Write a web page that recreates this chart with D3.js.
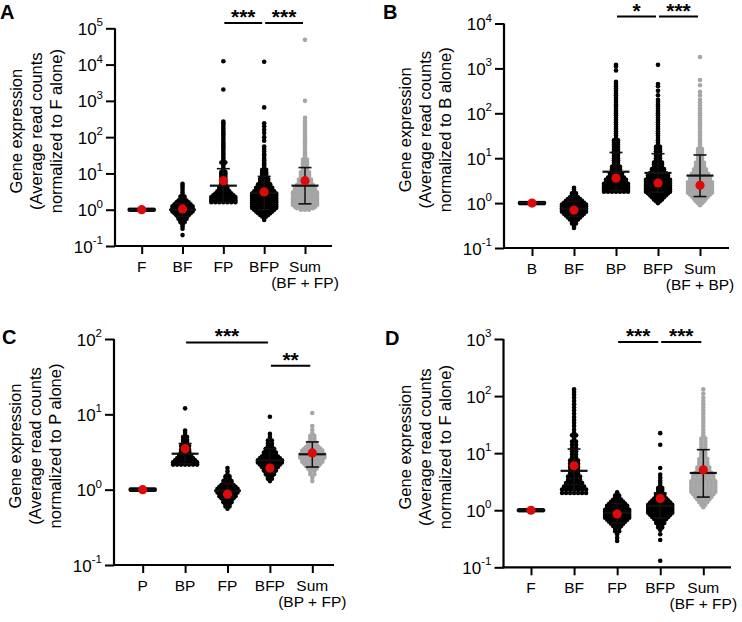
<!DOCTYPE html>
<html><head><meta charset="utf-8">
<script src="https://cdn.jsdelivr.net/npm/d3@7"></script>
<style>
body{margin:0;background:#fff}
svg{display:block}
text{font-family:"Liberation Sans",Arial,sans-serif;fill:#000}
</style>
</head><body>
<svg id="c" width="742" height="622"></svg>
<script>
// ---------- DATA ----------
// Rows of genes: [expression value, number of genes drawn side by side at that level]
const A_cats = ["F","BF","FP","BFP","Sum"];
const A_F   = [[1,7],[1,6]];
const A_BF  = [[0.2,1],[0.3,1],[0.35,1],[0.4,1],[0.45,2],[0.5,2],[0.56,3],[0.63,3],[0.7,4],[0.8,5],[0.9,6],[1.0,6],[1.1,6],[1.25,6],[1.4,5],[1.6,4],[1.8,3],[2.0,2],[2.3,2],[2.6,1],[3,1],[3.5,1],[4,1],[4.6,1],[5.2,1]];
const A_FP  = [[1.6,7],[1.8,7],[2.0,7],[2.25,7],[2.5,6],[2.8,5],[3.2,4],[3.6,3],[4,3],[4.5,2],[5,2],[5.6,2],[6.3,2],[7,2],[8,2],[9,2],[10,2],[11,2],[12.5,1],[14,1],[16,1],[18,1],[20,2],[23,1],[26,1],[29,1],[33,1],[37,1],[42,1],[47,1],[53,1],[60,1],[67,1],[75,1],[85,1],[95,1],[107,1],[120,1],[135,1],[150,1],[170,1],[190,1],[215,1],[240,1],[270,1],[2050,1],[12300,1]];
const A_BFP = [[0.52,1],[0.58,1],[0.65,2],[0.72,3],[0.8,4],[0.9,5],[1.0,6],[1.12,7],[1.25,7],[1.4,7],[1.6,7],[1.8,7],[2.0,7],[2.25,7],[2.5,7],[2.8,7],[3.2,6],[3.6,5],[4,5],[4.5,4],[5,4],[5.6,3],[6.3,3],[7,3],[8,2],[9,2],[10,2],[11,2],[12.5,2],[14,1],[16,1],[18,1],[20,1],[23,1],[26,1],[30,1],[34,1],[40,1],[47,1],[55,1],[80,1],[100,1],[130,1],[160,1],[200,1],[240,1],[660,1],[12000,1]];
const A_Sum = [[1.0,3],[1.1,5],[1.2,6],[1.35,7],[1.5,7],[1.7,7],[1.9,7],[2.1,7],[2.4,7],[2.7,7],[3,7],[3.4,6],[3.8,6],[4.3,5],[4.8,5],[5.4,4],[6,4],[6.8,4],[7.6,3],[8.5,3],[9.5,3],[10.7,3],[12,2],[13.5,2],[15,2],[17,2],[19,2],[21,2],[24,2],[27,1],[30,1],[34,1],[38,1],[43,1],[48,1],[54,1],[61,1],[68,1],[77,1],[87,1],[98,1],[110,1],[125,1],[140,1],[160,1],[180,1],[210,1],[240,1],[280,1],[340,1],[1000,1],[48000,1]];
const A_mean = [1, 1.0, 4.6, 2.9, 4.6];
const A_hi   = [1, 1.5, 13.5, 8.3, 14.5];
const A_lo   = [1, 0.65, 1.6, 1.0, 1.45];
const A_red  = [1, 1.05, 6.3, 3.1, 6.3];
const A_sig  = [["FP","BFP","***",1.4e5],["BFP","Sum","***",1.4e5]];

const B_cats = ["B","BF","BP","BFP","Sum"];
const B_B   = [[1,7],[1,6]];
const B_BF  = [[0.28,1],[0.31,1],[0.35,2],[0.39,2],[0.43,3],[0.48,4],[0.53,5],[0.58,6],[0.64,7],[0.7,7],[0.77,7],[0.85,7],[0.93,7],[1.02,6],[1.12,5],[1.23,4],[1.35,3],[1.5,2],[1.65,2],[1.8,1],[2.0,1],[2.2,1]];
const B_BP  = [[1.8,7],[2.0,7],[2.2,7],[2.4,7],[2.7,7],[3.0,6],[3.3,6],[3.7,5],[4.1,4],[4.6,4],[5.1,3],[5.7,3],[6.4,3],[7.2,2],[8,2],[9,2],[10,2],[11.3,2],[12.7,2],[14.2,2],[16,2],[18,2],[20,2],[22.5,2],[25,2],[28,1],[32,1],[36,1],[40,1],[45,1],[50,1],[56,1],[63,1],[71,1],[80,1],[90,1],[100,1],[112,1],[126,1],[141,1],[158,1],[178,1],[200,1],[224,1],[251,1],[282,1],[316,1],[355,1],[400,1],[450,1],[500,1],[900,1],[1100,1],[1200,1]];
const B_BFP = [[1.0,1],[1.1,2],[1.2,3],[1.35,4],[1.5,5],[1.65,6],[1.8,7],[2.0,7],[2.2,7],[2.45,7],[2.7,7],[3.0,7],[3.3,7],[3.7,6],[4.1,6],[4.6,5],[5.1,4],[5.7,4],[6.4,3],[7.2,3],[8,3],[9,2],[10,2],[11.3,2],[12.7,2],[14.2,2],[16,2],[18,2],[20,1],[22.5,1],[25,1],[28,1],[32,1],[36,1],[40,1],[45,1],[50,1],[56,1],[63,1],[71,1],[80,1],[90,1],[100,1],[112,1],[126,1],[141,1],[158,1],[178,1],[200,1],[251,1],[316,1],[400,1],[450,1],[1200,1]];
const B_Sum = [[0.9,1],[1.0,2],[1.1,3],[1.25,4],[1.4,5],[1.55,6],[1.7,7],[1.9,7],[2.1,7],[2.35,7],[2.6,7],[2.9,7],[3.2,6],[3.6,6],[4,5],[4.5,5],[5,4],[5.6,4],[6.3,3],[7,3],[7.9,3],[8.9,2],[10,2],[11.2,2],[12.6,2],[14,2],[16,2],[18,1],[20,1],[22.5,1],[25,1],[28,1],[32,1],[36,1],[40,1],[45,1],[50,1],[56,1],[63,1],[71,1],[80,1],[90,1],[100,1],[115,1],[130,1],[150,1],[175,1],[200,1],[250,1],[300,1],[420,1],[550,1],[1800,1]];
const B_mean = [1, 0.75, 5.0, 4.7, 4.1];
const B_hi   = [1, 1.1, 13.4, 12.6, 11.8];
const B_lo   = [1, 0.5, 1.9, 1.75, 1.4];
const B_red  = [1, 0.7, 3.6, 2.8, 2.5];
const B_sig  = [["BP","BFP","*",14300],["BFP","Sum","***",14300]];

const C_cats = ["P","BP","FP","BFP","Sum"];
const C_P   = [[1,7],[1,6]];
const C_BP  = [[2.15,7],[2.3,7],[2.45,6],[2.6,5],[2.75,4],[2.9,4],[3.05,3],[3.2,3],[3.4,3],[3.6,2],[3.8,3],[4.0,2],[4.3,2],[4.6,2],[5.0,2],[5.3,1],[5.7,1],[6.1,1],[12,1]];
const C_FP  = [[0.56,1],[0.6,2],[0.64,2],[0.68,3],[0.72,3],[0.77,4],[0.82,5],[0.87,5],[0.92,6],[0.97,6],[1.03,6],[1.09,5],[1.15,4],[1.22,3],[1.3,3],[1.4,2],[1.5,2],[1.6,1],[1.75,1],[1.94,1]];
const C_BFP = [[1.3,1],[1.4,2],[1.5,2],[1.6,3],[1.7,3],[1.8,4],[1.9,4],[2.0,5],[2.15,6],[2.3,7],[2.45,7],[2.6,6],[2.75,5],[2.9,4],[3.1,4],[3.3,3],[3.5,3],[3.8,2],[4.1,2],[4.5,2],[5.0,1],[5.5,1],[9.3,1]];
const C_Sum = [[1.3,1],[1.45,1],[1.6,2],[1.75,2],[1.9,3],[2.05,4],[2.2,5],[2.35,6],[2.5,6],[2.65,7],[2.8,7],[2.95,7],[3.1,6],[3.3,6],[3.5,5],[3.7,4],[3.95,3],[4.2,3],[4.5,2],[4.8,2],[5.2,2],[5.6,1],[6.2,1],[7,1],[10.4,1]];
const C_mean = [1, 3.0, 0.97, 2.45, 2.95];
const C_hi   = [1, 4.1, 1.2, 3.5, 4.3];
const C_lo   = [1, 2.2, 0.77, 1.7, 2.0];
const C_red  = [1, 3.5, 0.87, 1.94, 3.07];
const C_sig  = [["BP","BFP","***",90],["BFP","Sum","**",44]];

const D_cats = ["F","BF","FP","BFP","Sum"];
const D_F   = [[1,7],[1,6]];
const D_BF  = [[2.0,7],[2.3,7],[2.6,6],[3.0,5],[3.4,4],[3.9,4],[4.4,3],[5,3],[5.7,3],[6.5,3],[7.4,3],[8.4,2],[9.5,2],[10.8,2],[12.3,2],[14,2],[16,2],[18,1],[20.5,2],[23,1],[26,1],[30,1],[34,1],[38,1],[43,1],[49,1],[56,1],[63,1],[72,1],[82,1],[93,1],[105,1],[118,1],[131,1]];
const D_FP  = [[0.29,1],[0.33,1],[0.38,1],[0.43,2],[0.48,2],[0.53,3],[0.58,4],[0.63,5],[0.68,6],[0.74,7],[0.8,7],[0.87,7],[0.94,7],[1.02,7],[1.1,6],[1.2,6],[1.3,5],[1.41,4],[1.53,3],[1.66,2],[1.8,2],[1.95,1],[2.06,1]];
const D_BFP = [[0.13,1],[0.3,1],[0.38,1],[0.45,1],[0.5,2],[0.55,2],[0.6,3],[0.65,3],[0.7,4],[0.76,5],[0.83,6],[0.9,7],[0.98,7],[1.06,7],[1.15,7],[1.25,7],[1.36,6],[1.48,5],[1.6,4],[1.75,3],[1.9,3],[2.07,2],[2.25,2],[2.45,2],[2.7,1],[3.0,1],[3.3,1],[3.7,1],[4.2,1],[5.5,1],[14,1],[22.4,1]];
const D_Sum = [[1.13,1],[1.25,2],[1.4,3],[1.55,4],[1.7,5],[1.9,6],[2.1,7],[2.35,7],[2.6,7],[2.9,7],[3.2,7],[3.6,6],[4,6],[4.5,5],[5,4],[5.6,4],[6.3,3],[7,3],[7.9,3],[8.9,2],[10,2],[11.3,2],[12.7,2],[14.3,2],[16,2],[18,2],[20.5,1],[23,1],[26,1],[30,1],[34,1],[38,1],[43,1],[49,1],[56,1],[63,1],[72,1],[82,1],[93,1],[110,1],[131,1]];
const D_mean = [1, 4.9, 0.9, 1.2, 4.5];
const D_hi   = [1, 11.8, 1.3, 2.0, 11.5];
const D_lo   = [1, 2.0, 0.6, 0.72, 1.7];
const D_red  = [1, 6.0, 0.86, 1.6, 5.1];
const D_sig  = [["FP","BFP","***",890],["BFP","Sum","***",890]];

const titleLines = ["Gene expression","(Average read counts"];

// ---------- LAYOUT ----------
const panels = [
 {letter:"A", lx:0, ly:19, ax:115, top:28.3, bot:246, dmax:1e5, c0:141.7, c1:305, xend:332,
  cats:A_cats, sub:"(BF + FP)", norm:"normalized to F alone)", groups:[A_F,A_BF,A_FP,A_BFP,A_Sum],
  mean:A_mean, hi:A_hi, lo:A_lo, red:A_red, sig:A_sig},
 {letter:"B", lx:383, ly:19, ax:504, top:23.5, bot:248, dmax:1e4, c0:532, c1:700, xend:729,
  cats:B_cats, sub:"(BF + BP)", norm:"normalized to B alone)", groups:[B_B,B_BF,B_BP,B_BFP,B_Sum],
  mean:B_mean, hi:B_hi, lo:B_lo, red:B_red, sig:B_sig},
 {letter:"C", lx:2, ly:344, ax:114, top:339, bot:565, dmax:1e2, c0:142.7, c1:312.3, xend:334,
  cats:C_cats, sub:"(BP + FP)", norm:"normalized to P alone)", groups:[C_P,C_BP,C_FP,C_BFP,C_Sum],
  mean:C_mean, hi:C_hi, lo:C_lo, red:C_red, sig:C_sig},
 {letter:"D", lx:385, ly:345, ax:503.5, top:339, bot:567.3, dmax:1e3, c0:531, c1:703.3, xend:731,
  cats:D_cats, sub:"(BF + FP)", norm:"normalized to F alone)", groups:[D_F,D_BF,D_FP,D_BFP,D_Sum],
  mean:D_mean, hi:D_hi, lo:D_lo, red:D_red, sig:D_sig}
];

const R = 2.3, SP = 4, GRAY = "#a6a6a6", RED = "#dd0a0a";
const svg = d3.select("#c");

panels.forEach(p => {
  const g = svg.append("g");
  const y = d3.scaleLog().domain([0.1, p.dmax]).range([p.bot, p.top]);
  const x = d3.scalePoint().domain(p.cats).range([p.c0, p.c1]);

  // dots
  p.groups.forEach((rows, i) => {
    const cx = x(p.cats[i]);
    const col = p.cats[i] === "Sum" ? GRAY : "#000";
    const pts = [];
    rows.forEach(([v, n]) => { for (let k = 0; k < n; k++) pts.push({v, dx: (k - (n - 1) / 2) * SP}); });
    g.append("g").selectAll("circle").data(pts).join("circle")
      .attr("cx", d => cx + d.dx).attr("cy", d => y(d.v)).attr("r", R).attr("fill", col);
  });

  // mean / SD bars and red dots
  p.cats.forEach((c, i) => {
    const cx = x(c);
    const lc = "#111";
    g.append("line").attr("x1", cx).attr("x2", cx).attr("y1", y(p.lo[i])).attr("y2", y(p.hi[i]))
      .attr("stroke", lc).attr("stroke-width", 1.5);
    [p.lo[i], p.hi[i]].forEach(v => g.append("line").attr("x1", cx - 6.5).attr("x2", cx + 6.5)
      .attr("y1", y(v)).attr("y2", y(v)).attr("stroke", lc).attr("stroke-width", 1.6));
    g.append("line").attr("x1", cx - 13.5).attr("x2", cx + 13.5).attr("y1", y(p.mean[i])).attr("y2", y(p.mean[i]))
      .attr("stroke", lc).attr("stroke-width", 2.2);
  });
  g.append("g").selectAll("circle").data(p.red).join("circle")
    .attr("cx", (d, i) => x(p.cats[i])).attr("cy", d => y(d)).attr("r", 4.6).attr("fill", RED);

  // y axis
  const decades = d3.range(-1, Math.round(Math.log10(p.dmax)) + 1).map(k => Math.pow(10, k));
  const ya = g.append("g").attr("transform", `translate(${p.ax},0)`)
    .call(d3.axisLeft(y).tickValues(decades).tickSize(9).tickSizeOuter(0).tickPadding(4).tickFormat(() => ""));
  ya.select(".domain").attr("stroke-width", 2.2).attr("d", `M0,${p.bot + 1}V${p.top}`);
  ya.selectAll(".tick line").attr("stroke-width", 2);
  ya.selectAll(".tick text").each(function(d) {
    const t = d3.select(this).attr("font-size", 17).attr("dy", "0.36em").attr("x", -12);
    t.append("tspan").text("10");
    t.append("tspan").attr("font-size", 11.5).attr("dy", "-0.75em").text(Math.round(Math.log10(d)));
  });

  // x axis
  g.append("line").attr("x1", p.ax - 1).attr("x2", p.xend).attr("y1", p.bot).attr("y2", p.bot)
    .attr("stroke", "#000").attr("stroke-width", 2.2);
  const xa = g.append("g").attr("transform", `translate(0,${p.bot})`)
    .call(d3.axisBottom(x).tickSize(8).tickSizeOuter(0).tickFormat(() => ""));
  xa.select(".domain").remove();
  xa.selectAll(".tick line").attr("stroke-width", 2);
  p.cats.forEach(c => {
    g.append("text").attr("x", x(c)).attr("y", p.bot + 26).attr("text-anchor", "middle")
      .attr("font-size", 15.5).text(c);
  });
  g.append("text").attr("x", x("Sum")).attr("y", p.bot + 42).attr("text-anchor", "middle")
    .attr("font-size", 15.5).text(p.sub);

  // y title
  const cy = (p.top + p.bot) / 2 - 6;
  [titleLines[0], titleLines[1], p.norm].forEach((s, k) => {
    g.append("text").attr("transform", `translate(${p.ax - 93 + k * 20},${cy}) rotate(-90)`)
      .attr("text-anchor", "middle").attr("font-size", 16.5).text(s);
  });

  // significance bars
  p.sig.forEach(([a, b, s, v]) => {
    const x1 = x(a) + 1, x2 = x(b) - 2, yy = y(v);
    g.append("line").attr("x1", x1).attr("x2", x2).attr("y1", yy).attr("y2", yy)
      .attr("stroke", "#000").attr("stroke-width", 2);
    g.append("text").attr("x", (x1 + x2) / 2).attr("y", yy + 1).attr("text-anchor", "middle")
      .attr("font-size", 21).attr("font-weight", "bold").text(s);
  });

  // panel letter
  g.append("text").attr("x", p.lx).attr("y", p.ly).attr("font-size", 20).attr("font-weight", "bold").text(p.letter);
});
</script>
</body></html>
